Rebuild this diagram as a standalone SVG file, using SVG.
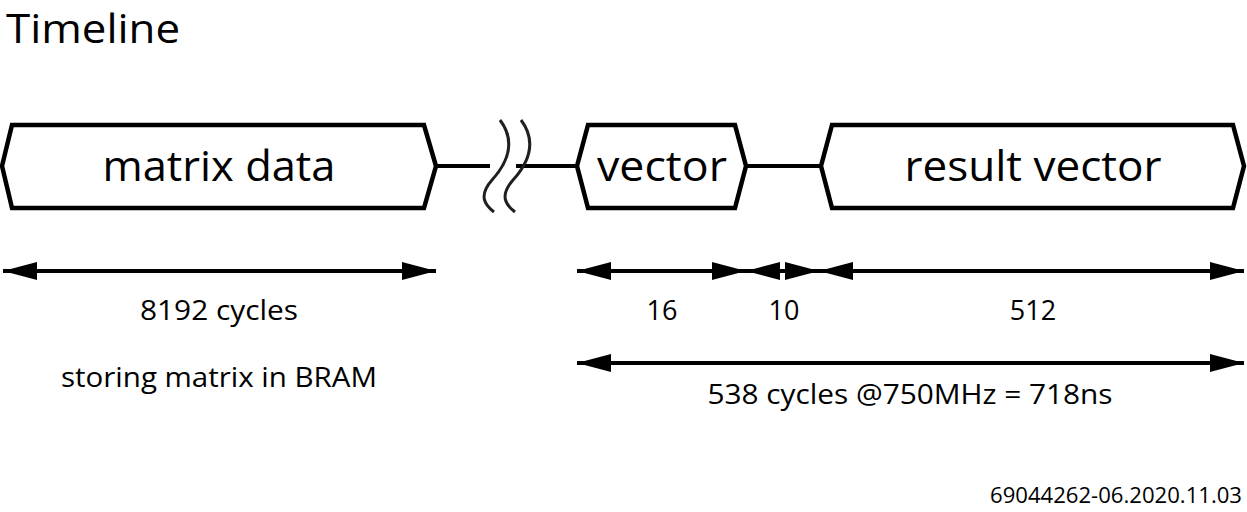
<svg xmlns="http://www.w3.org/2000/svg" width="1247" height="512" viewBox="0 0 1247 512">
<style>
.n{fill:#fff;stroke:#000;stroke-width:4.5}
.l{stroke:#000;stroke-width:4;fill:none}
.w{stroke:#231f20;stroke-width:3;fill:none}
text{font-family:"Open Sans","Noto Sans",sans-serif;fill:#000}
.b{font-size:42px;text-anchor:middle}
.s{font-size:27px;text-anchor:middle}
</style>
<defs>
<marker id="a" viewBox="0 0 34 20" refX="34" refY="10" markerWidth="34" markerHeight="20" markerUnits="userSpaceOnUse" orient="auto-start-reverse"><path d="M0,1 L34,10 L0,19 Z" fill="#000"/></marker>
</defs>
<rect width="1247" height="512" fill="#fff"/>
<text x="6" y="43" font-size="40" textLength="174" lengthAdjust="spacingAndGlyphs">Timeline</text>
<g id="connectors">
<line class="l" x1="436" y1="166" x2="490" y2="166"/>
<line class="l" x1="516" y1="166" x2="577" y2="166"/>
<line class="l" x1="746" y1="166" x2="821" y2="166"/>
<path class="w" d="M500,120 C515,140 510,160 492,180 C478,196 485,205 494,212"/>
<path class="w" d="M521,120 C536,140 531,160 513,180 C499,196 506,205 515,212"/>
<line class="l" x1="3" y1="271" x2="436" y2="271" marker-start="url(#a)" marker-end="url(#a)"/>
<line class="l" x1="577" y1="271" x2="746" y2="271" marker-start="url(#a)" marker-end="url(#a)"/>
<line class="l" x1="746" y1="271" x2="819" y2="271" marker-start="url(#a)" marker-end="url(#a)"/>
<line class="l" x1="819" y1="271" x2="1244" y2="271" marker-start="url(#a)" marker-end="url(#a)"/>
<line class="l" x1="577" y1="363" x2="1244" y2="363" marker-start="url(#a)" marker-end="url(#a)"/>
</g>
<g id="matrix"><path class="n" d="M2,166 L12,125 L424,125 L436,166 L424,208 L12,208 Z"/><text class="b" x="219" y="181" textLength="233" lengthAdjust="spacingAndGlyphs">matrix data</text></g>
<g id="vector"><path class="n" d="M577,166 L588,125 L735,125 L746,166 L735,208 L588,208 Z"/><text class="b" x="662" y="181" textLength="130" lengthAdjust="spacingAndGlyphs">vector</text></g>
<g id="result"><path class="n" d="M821,166 L832,125 L1233,125 L1244,166 L1233,208 L832,208 Z"/><text class="b" x="1033" y="181" textLength="257" lengthAdjust="spacingAndGlyphs">result vector</text></g>
<text class="s" x="219" y="320" textLength="158" lengthAdjust="spacingAndGlyphs">8192 cycles</text>
<text class="s" x="219" y="387" textLength="316" lengthAdjust="spacingAndGlyphs">storing matrix in BRAM</text>
<text class="s" x="662" y="320">16</text>
<text class="s" x="784" y="320">10</text>
<text class="s" x="1033" y="320">512</text>
<text class="s" x="910" y="404" textLength="405" lengthAdjust="spacingAndGlyphs">538 cycles @750MHz = 718ns</text>
<text x="1242" y="503" font-size="21" text-anchor="end" textLength="252" lengthAdjust="spacingAndGlyphs">69044262-06.2020.11.03</text>
</svg>
